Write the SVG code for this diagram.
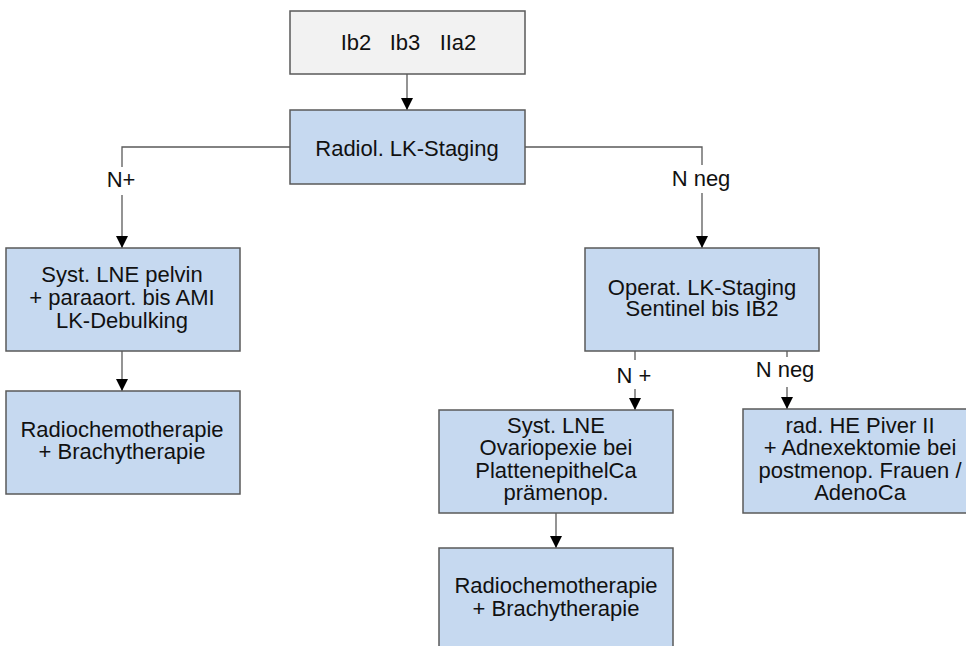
<svg xmlns="http://www.w3.org/2000/svg" width="966" height="646" viewBox="0 0 966 646">
<style>
  .box { fill: #c6d9f0; stroke: #5a5a5a; stroke-width: 1.5; }
  .grey { fill: #f2f2f2; stroke: #5a5a5a; stroke-width: 1.5; }
  text { font-family: "Liberation Sans", Arial, sans-serif; font-size: 22px; fill: #111; text-anchor: middle; }
  .conn line, .conn polyline { stroke: #5a5a5a; stroke-width: 1.3; fill: none; }
</style>
<defs>
  <marker id="arr" markerUnits="userSpaceOnUse" markerWidth="12" markerHeight="12" refX="12" refY="6" orient="auto">
    <path d="M0,0 L12,6 L0,12 Z" fill="#000"/>
  </marker>
</defs>
<rect width="966" height="646" fill="#fff"/>

<g class="conn" id="connectors">
  <line x1="407" y1="74" x2="407" y2="110" marker-end="url(#arr)"/>
  <polyline points="290,147 122,147 122,167"/>
  <line x1="122" y1="195" x2="122" y2="248" marker-end="url(#arr)"/>
  <polyline points="525,147 702,147 702,165"/>
  <line x1="702" y1="193" x2="702" y2="248" marker-end="url(#arr)"/>
  <line x1="122" y1="351" x2="122" y2="391" marker-end="url(#arr)"/>
  <line x1="635" y1="351" x2="635" y2="360"/>
  <line x1="635" y1="389" x2="635" y2="410" marker-end="url(#arr)"/>
  <line x1="787" y1="351" x2="787" y2="357"/>
  <line x1="787" y1="387" x2="787" y2="409" marker-end="url(#arr)"/>
  <line x1="556" y1="513" x2="556" y2="548" marker-end="url(#arr)"/>
  <text x="121" y="187">N+</text>
  <text x="701" y="186">N neg</text>
  <text x="634" y="383">N +</text>
  <text x="785" y="377">N neg</text>
</g>

<g id="start">
  <rect class="grey" x="290" y="11" width="235" height="63"/>
  <text x="356" y="50">Ib2</text>
  <text x="405" y="50">Ib3</text>
  <text x="458" y="50">IIa2</text>
</g>
<g id="radiol">
  <rect class="box" x="290" y="110" width="235" height="74"/>
  <text x="407" y="156">Radiol. LK-Staging</text>
</g>
<g id="syst-lne-pelvin">
  <rect class="box" x="6" y="248" width="234" height="103"/>
  <text x="122" y="282">Syst. LNE pelvin</text>
  <text x="122" y="305">+ paraaort. bis AMI</text>
  <text x="122" y="328">LK-Debulking</text>
</g>
<g id="radiochemo-left">
  <rect class="box" x="6" y="391" width="234" height="103"/>
  <text x="122" y="437">Radiochemotherapie</text>
  <text x="122" y="459">+ Brachytherapie</text>
</g>
<g id="operat">
  <rect class="box" x="585" y="248" width="234" height="103"/>
  <text x="702" y="295">Operat. LK-Staging</text>
  <text x="702" y="316">Sentinel bis IB2</text>
</g>
<g id="syst-lne">
  <rect class="box" x="439" y="410" width="234" height="103"/>
  <text x="556" y="433">Syst. LNE</text>
  <text x="556" y="455">Ovariopexie bei</text>
  <text x="556" y="478">PlattenepithelCa</text>
  <text x="556" y="500">prämenop.</text>
</g>
<g id="rad-he">
  <rect class="box" x="743" y="409" width="234" height="104"/>
  <text x="860" y="433">rad. HE Piver II</text>
  <text x="860" y="455">+ Adnexektomie bei</text>
  <text x="860" y="478">postmenop. Frauen /</text>
  <text x="860" y="500">AdenoCa</text>
</g>
<g id="radiochemo-right">
  <rect class="box" x="439" y="548" width="234" height="103"/>
  <text x="556" y="593">Radiochemotherapie</text>
  <text x="556" y="616">+ Brachytherapie</text>
</g>
</svg>
